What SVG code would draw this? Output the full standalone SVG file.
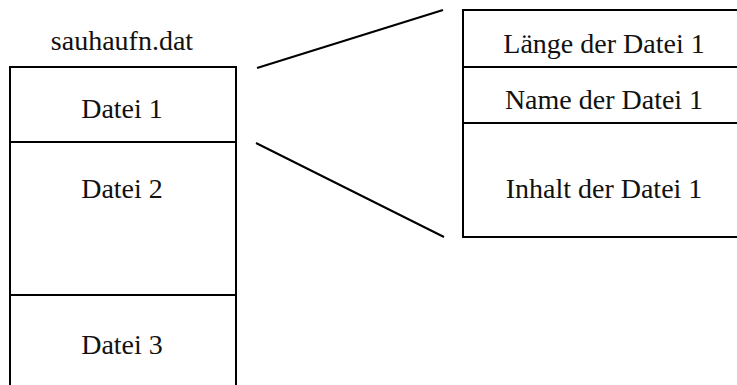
<svg xmlns="http://www.w3.org/2000/svg" width="737" height="385" viewBox="0 0 737 385">
  <style>
    .ln { stroke: #000; stroke-width: 2; fill: none; }
    .t { font-family: "Liberation Serif", "Times New Roman", serif; font-size: 28px; fill: #111; text-anchor: middle; }
  </style>
  <rect width="737" height="385" fill="#fff"/>

  <!-- archive file with its entries -->
  <g id="archive">
    <text class="t" x="122" y="50">sauhaufn.dat</text>
    <path class="ln" d="M10,386 V67 H236 V386"/>
  </g>
  <g id="datei1">
    <text class="t" x="122" y="118">Datei 1</text>
    <line class="ln" x1="10" y1="142" x2="236" y2="142"/>
  </g>
  <g id="datei2">
    <text class="t" x="122" y="198">Datei 2</text>
    <line class="ln" x1="10" y1="295" x2="236" y2="295"/>
  </g>
  <g id="datei3">
    <text class="t" x="122" y="354">Datei 3</text>
  </g>

  <!-- layout of one entry -->
  <g id="entry">
    <path class="ln" d="M738,10 H463 V237 H738"/>
    <line class="ln" x1="463" y1="67" x2="738" y2="67"/>
    <line class="ln" x1="463" y1="123" x2="738" y2="123"/>
    <text class="t" x="604" y="53">Länge der Datei 1</text>
    <text class="t" x="604" y="109">Name der Datei 1</text>
    <text class="t" x="604" y="198">Inhalt der Datei 1</text>
  </g>

  <!-- expansion lines -->
  <g id="connectors">
    <line class="ln" x1="257" y1="68" x2="443" y2="10"/>
    <line class="ln" x1="256" y1="143" x2="444" y2="237"/>
  </g>
</svg>
